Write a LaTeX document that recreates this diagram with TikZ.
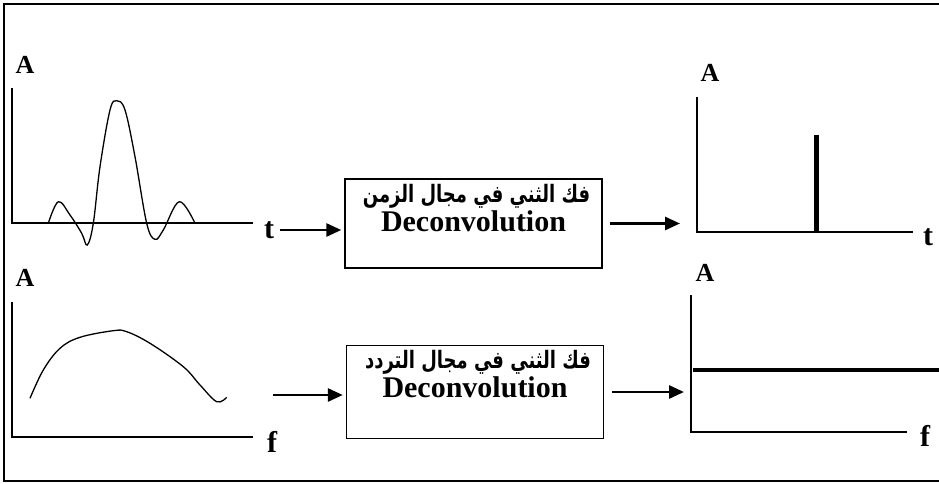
\documentclass[tikz,border=0pt]{standalone}
\usepackage{fontspec}
\setmainfont{Liberation Serif}
\newfontfamily\arabicfont[Script=Arabic,FakeStretch=0.75]{DejaVu Sans}
\TeXXeTstate=1
\usetikzlibrary{arrows.meta,positioning}

\begin{document}
\begin{tikzpicture}[x=1pt,y=-1pt,
  axis/.style={line width=1.4pt},
  wave/.style={line width=1.3pt},
  alabel/.style={font=\fontsize{26}{26}\selectfont\bfseries,inner sep=0pt},
  varlabel/.style={font=\fontsize{30}{30}\selectfont\bfseries,inner sep=0pt},
  declabel/.style={font=\fontsize{30}{30}\selectfont\bfseries,inner sep=0pt,anchor=base},
  arlabel/.style={font=\arabicfont\fontsize{24}{24}\selectfont\bfseries,inner sep=0pt,anchor=base},
  flow/.style={line width=2.8pt,-{Triangle[length=15pt,width=13pt]}},
  procbox/.style={draw,line width=1.4pt,minimum width=257pt,minimum height=89pt,inner sep=0pt}]
  \useasboundingbox (0,0) rectangle (939,484);
  % frame
  \draw[line width=2.5pt] (945,4) -- (4,4) -- (4,481) -- (945,481);

  % time-domain input
  \draw[axis] (12,88) -- (12,223) -- (253,223);
  \node[alabel] (aTin) at (25,65) {A};
  \node[varlabel] (tin) at (269,230) {t};
  \draw[wave] plot[smooth,tension=0.6] coordinates {(48.3,223.3) (58.3,201.7) (70,215)
    (81.7,233.3) (87.3,245) (93.3,223.3) (100,166.7) (110,110) (116.7,100.7) (125,110)
    (135,156.7) (146.7,223.3) (155,239.3) (163.3,230) (179.3,201.7) (195,223.3)};

  % frequency-domain input
  \draw[axis] (12,302) -- (12,437) -- (253,437);
  \node[alabel] (aFin) at (25,278) {A};
  \node[varlabel] (fin) at (272,442) {f};
  \draw[wave] plot[smooth,tension=0.6] coordinates {(30,398.3) (43.3,370) (60,348.3)
    (80,337.3) (113.3,330.7) (126.7,331.7) (150,343.3) (183.3,366.7) (200,385)
    (216.7,401.7) (226.7,397.3)};

  % deconvolution boxes
  \node[procbox] (box1) at (473.5,223.5) {};
  \node[arlabel] (ar1) at ([xshift=3pt,yshift=-24pt]box1.north) {\beginR فك الثني في مجال الزمن\endR};
  \node[declabel] (dec1) at ([yshift=-53pt]box1.north) {Deconvolution};
  \node[procbox,minimum height=93pt] (box2) at (475,392) {};
  \node[arlabel] (ar2) at ([xshift=3pt,yshift=-24pt]box2.north) {\beginR فك الثني في مجال التردد\endR};
  \node[declabel] (dec2) at ([yshift=-53pt]box2.north) {Deconvolution};

  % time-domain output
  \draw[axis] (697,97) -- (697,232) -- (913,232);
  \node[alabel] (aTout) at (710,73) {A};
  \node[varlabel] (tout) at (928,237) {t};
  \draw[line width=5pt] (816,135) -- (816,232);

  % frequency-domain output
  \draw[axis] (691,295) -- (691,432) -- (907,432);
  \node[alabel] (aFout) at (705,273) {A};
  \node[varlabel] (fout) at (925,436) {f};
  \draw[line width=4pt] (693,370) -- (945,370);

  % arrows
  \coordinate (spikein) at (680,223.5);
  \coordinate (specout) at (273,395);
  \coordinate (flatin) at (684,392);
  \draw[flow,shorten >=3pt] ([xshift=6pt]tin.east) -- (tin.east -| box1.west);
  \draw[flow] ([xshift=7pt]box1.east) -- (spikein);
  \draw[flow,shorten >=3pt] (specout) -- (specout -| box2.west);
  \draw[flow] ([xshift=8pt]box2.east) -- (flatin);
\end{tikzpicture}
\end{document}
